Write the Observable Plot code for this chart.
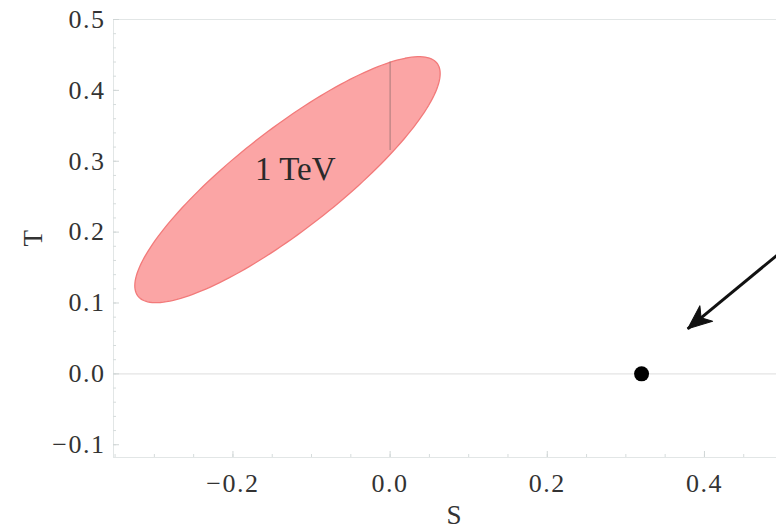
<!DOCTYPE html>
<html>
<head>
<meta charset="utf-8">
<script src="https://cdn.jsdelivr.net/npm/d3@7"></script>
<script src="https://cdn.jsdelivr.net/npm/@observablehq/plot@0.6"></script>
<style>
  html, body { margin: 0; padding: 0; background: #fff; }
  #chart svg { display: block; overflow: hidden; }
  #chart svg text { font-family: "Liberation Serif", "Times New Roman", serif !important; }
  #chart svg g[aria-label$="tick label"] text { font-size: 26px !important; letter-spacing: 1.5px; }
</style>
</head>
<body>
<div id="chart"></div>
<script>
// Axis ranges and ticks
const sDomain = [-0.352, 0.4917];
const tDomain = [-0.118, 0.5];
const sTicks = [-0.2, 0.0, 0.2, 0.4];
const tTicks = [-0.1, 0.0, 0.1, 0.2, 0.3, 0.4, 0.5];
const sMinor = [-0.35, -0.3, -0.25, -0.2, -0.15, -0.1, -0.05, 0, 0.05, 0.1, 0.15, 0.2, 0.25, 0.3, 0.35, 0.4, 0.45];
const tMinor = [-0.1, -0.08, -0.06, -0.04, -0.02, 0, 0.02, 0.04, 0.06, 0.08, 0.1, 0.12, 0.14, 0.16, 0.18,
                0.2, 0.22, 0.24, 0.26, 0.28, 0.3, 0.32, 0.34, 0.36, 0.38, 0.4, 0.42, 0.44, 0.46, 0.48, 0.5];
const axisLabels = ["S", "T"];

// 1 TeV allowed region: centre and the two semi-axis vectors (S, T)
const ellipseCenter = [-0.1306, 0.274];
const ellipseMajor = [0.1903, 0.1643];
const ellipseMinor = [-0.0392, 0.0559];
const ellipseLabel = [{S: -0.1207, T: 0.288, text: "1 TeV"}];
// internal seam of the shaded region along S = 0
const seam = [{S: 0, T1: 0.315, T2: 0.44}];

// model point and pointer arrow
const point = [{S: 0.32, T: 0.0}];
const pointer = [{S1: 0.55, T1: 0.220, S2: 0.3787, T2: 0.0636}];
const pointerHeading = 230.6; // degrees clockwise from up, on screen

// outline of the ellipse from its centre and semi-axes
const outline = d3.range(0, 360, 2).map(deg => {
  const a = deg * Math.PI / 180;
  return {
    S: ellipseCenter[0] + ellipseMajor[0] * Math.cos(a) + ellipseMinor[0] * Math.sin(a),
    T: ellipseCenter[1] + ellipseMajor[1] * Math.cos(a) + ellipseMinor[1] * Math.sin(a)
  };
});

// filled arrowhead with a notched back, pointing along the vector
const arrowHead = {
  draw(context, l) {
    context.moveTo(0, -l);
    context.lineTo(-10, 0);
    context.lineTo(0, -l * 0.28);
    context.lineTo(10, 0);
    context.closePath();
  }
};

const serif = "'Liberation Serif', 'Times New Roman', serif";

const chart = Plot.plot({
  width: 776,
  height: 529,
  marginLeft: 113,
  marginRight: 0,
  marginTop: 19,
  marginBottom: 72,
  x: {domain: sDomain},
  y: {domain: tDomain},
  style: {fontFamily: serif, fontSize: "26px", color: "#2a2a2a", background: "#fff"},
  marks: [
    Plot.ruleY([0], {stroke: "#e4e4e4", strokeWidth: 1.2}),
    Plot.frame({stroke: "#e2e6e6", strokeWidth: 1}),
    // inward tick marks
    Plot.axisY(tMinor, {anchor: "left", tickSize: 3, dx: 3, tickFormat: () => "", stroke: "#d6dcdc", label: null}),
    Plot.axisY(tTicks, {anchor: "left", tickSize: 6, dx: 6, tickFormat: () => "", stroke: "#d0d6d6", label: null}),
    Plot.axisX(sMinor, {anchor: "bottom", tickSize: 3, dy: -3, tickFormat: () => "", stroke: "#d6dcdc", label: null}),
    Plot.axisX(sTicks, {anchor: "bottom", tickSize: 6, dy: -6, tickFormat: () => "", stroke: "#d0d6d6", label: null}),
    // tick labels
    Plot.axisY(tTicks, {anchor: "left", tickSize: 0, tickPadding: 8, tickFormat: d3.format(".1f"), label: null, fill: "#333"}),
    Plot.axisX(sTicks, {anchor: "bottom", tickSize: 0, tickPadding: 16, tickFormat: d3.format(".1f"), label: null, fill: "#333"}),
    // shaded region
    Plot.line(outline, {x: "S", y: "T", curve: "linear-closed", fill: "#fba5a5", stroke: "#f27a7a", strokeWidth: 1.3}),
    Plot.ruleX(seam, {x: "S", y1: "T1", y2: "T2", stroke: "#a07676", strokeWidth: 1.2, strokeOpacity: 0.75}),
    Plot.text(ellipseLabel, {x: "S", y: "T", text: "text", fontSize: 33, fill: "#2a2a2a", letterSpacing: "1px"}),
    // model point and arrow
    Plot.dot(point, {x: "S", y: "T", r: 7.5, fill: "#000", stroke: null}),
    Plot.link(pointer, {x1: "S1", y1: "T1", x2: "S2", y2: "T2", stroke: "#111", strokeWidth: 3, clip: true}),
    Plot.vector(pointer, {x: "S2", y: "T2", rotate: pointerHeading, length: 24, anchor: "end", shape: arrowHead, fill: "#111", stroke: "#111", strokeWidth: 1}),
    // axis titles
    Plot.text([axisLabels[0]], {frameAnchor: "bottom", dy: 66, dx: 9, fontSize: 27, fill: "#333"}),
    Plot.text([axisLabels[1]], {frameAnchor: "left", dx: -80, dy: 8, rotate: -90, fontSize: 27, fill: "#333"})
  ]
});

document.getElementById("chart").appendChild(chart);
</script>
</body>
</html>
